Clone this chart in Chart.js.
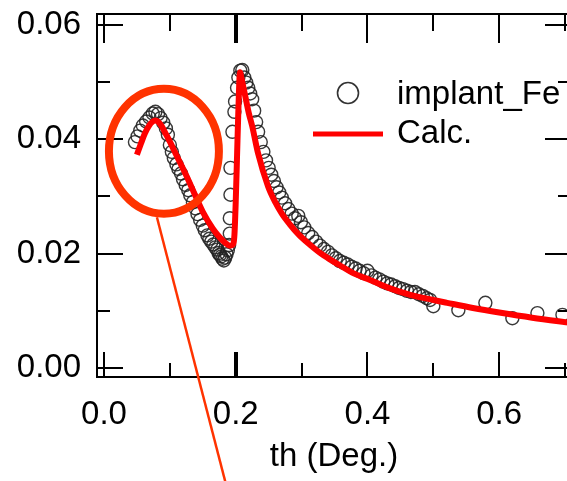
<!DOCTYPE html>
<html>
<head>
<meta charset="utf-8">
<script src="https://cdn.jsdelivr.net/npm/chart.js@4.4.1/dist/chart.umd.min.js"></script>
<style>
  html, body { margin: 0; padding: 0; background: #fff; overflow: hidden; }
  #wrap { width: 567px; height: 481px; overflow: hidden; }
</style>
</head>
<body>
<div id="wrap"><canvas id="chart" width="580" height="481"></canvas></div>
<script>
// measured reflectivity (implant_Fe), th in degrees
const measX = [0.047, 0.051, 0.055, 0.059, 0.064, 0.069, 0.074, 0.078, 0.082, 0.086, 0.090, 0.094, 0.097, 0.100,
  0.103, 0.106, 0.110, 0.113, 0.117, 0.120, 0.124, 0.128, 0.131, 0.135, 0.139, 0.142, 0.146, 0.150, 0.153, 0.157,
  0.160, 0.163, 0.166, 0.169, 0.172, 0.174, 0.176, 0.178, 0.180, 0.182, 0.184, 0.186, 0.188, 0.190, 0.191, 0.191,
  0.192, 0.192, 0.195, 0.198, 0.199, 0.202, 0.204, 0.207, 0.210, 0.213, 0.216, 0.219, 0.222, 0.225, 0.228, 0.231,
  0.234, 0.238, 0.242, 0.246, 0.250, 0.254, 0.258, 0.262, 0.266, 0.270, 0.275, 0.280, 0.285, 0.290, 0.295, 0.299,
  0.304, 0.310, 0.316, 0.322, 0.328, 0.334, 0.340, 0.346, 0.352, 0.358, 0.364, 0.370, 0.376, 0.382, 0.388, 0.394,
  0.400, 0.406, 0.412, 0.418, 0.424, 0.430, 0.436, 0.442, 0.448, 0.454, 0.460, 0.466, 0.472, 0.478, 0.484, 0.490,
  0.495, 0.500, 0.538, 0.579, 0.620, 0.658, 0.696];
const measY = [0.0395, 0.0405, 0.0415, 0.0424, 0.0431, 0.0438, 0.0445, 0.0448, 0.0444, 0.0437, 0.0429, 0.0419, 0.0408, 0.0390,
  0.0378, 0.0367, 0.0356, 0.0348, 0.0340, 0.0330, 0.0320, 0.0311, 0.0302, 0.0290, 0.0279, 0.0269, 0.0259, 0.0249, 0.0241, 0.0232,
  0.0226, 0.0221, 0.0216, 0.0211, 0.0207, 0.0201, 0.0198, 0.0195, 0.0191, 0.0188, 0.0193, 0.0199, 0.0206, 0.0215, 0.0235, 0.0262,
  0.0303, 0.0350, 0.0413, 0.0448, 0.0466, 0.0490, 0.0508, 0.0520, 0.0521, 0.0508, 0.0499, 0.0490, 0.0480, 0.0470, 0.0450, 0.0430,
  0.0413, 0.0395, 0.0378, 0.0363, 0.0350, 0.0338, 0.0327, 0.0316, 0.0307, 0.0298, 0.0288, 0.0278, 0.0270, 0.0262, 0.0266, 0.0255,
  0.0246, 0.0236, 0.0229, 0.0221, 0.0214, 0.0208, 0.0203, 0.0197, 0.0192, 0.0187, 0.0184, 0.0181, 0.0177, 0.0174, 0.0170, 0.0166,
  0.0170, 0.0162, 0.0158, 0.0155, 0.0151, 0.0148, 0.0146, 0.0143, 0.0140, 0.0138, 0.0135, 0.0133, 0.0133, 0.0129, 0.0126, 0.0122,
  0.0119, 0.0108, 0.0101, 0.0114, 0.0087, 0.0096, 0.0093];

// fitted curve (Calc.)
const calcX = [0.050, 0.056, 0.062, 0.068, 0.074, 0.078, 0.082, 0.088, 0.094, 0.100, 0.110, 0.126, 0.140, 0.150, 0.165,
  0.176, 0.185, 0.191, 0.195, 0.198, 0.200, 0.202, 0.204, 0.2065, 0.209, 0.214, 0.220, 0.225, 0.234, 0.249, 0.260,
  0.270, 0.283, 0.295, 0.310, 0.325, 0.343, 0.356, 0.380, 0.404, 0.430, 0.465, 0.500, 0.521, 0.560, 0.600, 0.650, 0.710];
const calcY = [0.0373, 0.0392, 0.0410, 0.0423, 0.0431, 0.0433, 0.0431, 0.0422, 0.0409, 0.0396, 0.0372, 0.0334, 0.0298, 0.0273, 0.0244,
  0.0228, 0.0218, 0.0214, 0.0215, 0.0232, 0.0290, 0.0370, 0.0450, 0.0517, 0.0505, 0.0478, 0.0445, 0.0423, 0.0375, 0.0318, 0.0290,
  0.0270, 0.0250, 0.0234, 0.0218, 0.0204, 0.0190, 0.0181, 0.0165, 0.0154, 0.0141, 0.0128, 0.0119, 0.0114, 0.0105, 0.0097, 0.0088, 0.0079];

const xMajor = [0.0, 0.2, 0.4, 0.6];
const xMinor = [0.1, 0.3, 0.5, 0.7];
const yMajor = [0.00, 0.02, 0.04, 0.06];
const yMinor = [0.01, 0.03, 0.05];

const FONT = 'Liberation Sans, Arial, sans-serif';
const toPoints = (xs, ys) => xs.map((x, i) => ({ x: x, y: ys[i] }));

// box with ticks pointing inwards on all four sides
const frameTicks = {
  id: 'frameTicks',
  afterDraw(chart) {
    const { ctx, chartArea: a, scales: { x, y } } = chart;
    ctx.save();
    ctx.strokeStyle = '#000';
    ctx.lineWidth = 2;
    ctx.beginPath();
    ctx.moveTo(a.left, a.top);
    ctx.lineTo(a.right, a.top);
    ctx.lineTo(a.right, a.bottom);
    ctx.stroke();

    const vTick = (v, lenB, lenT, w) => {
      const px = Math.round(x.getPixelForValue(v));
      ctx.lineWidth = w;
      ctx.beginPath();
      ctx.moveTo(px, a.bottom); ctx.lineTo(px, a.bottom - lenB);
      ctx.moveTo(px, a.top); ctx.lineTo(px, a.top + lenT);
      ctx.stroke();
    };
    const hTick = (v, len) => {
      const py = Math.round(y.getPixelForValue(v));
      ctx.lineWidth = 2;
      ctx.beginPath();
      ctx.moveTo(a.left, py); ctx.lineTo(a.left + len, py);
      ctx.moveTo(a.right, py); ctx.lineTo(a.right - len, py);
      ctx.stroke();
    };
    xMajor.forEach(v => vTick(v, 25, 29, v === 0.2 ? 4 : 2));
    xMinor.forEach(v => vTick(v, 14, 17, 2));
    yMajor.forEach(v => hTick(v, 26));
    yMinor.forEach(v => hTick(v, 13));
    ctx.restore();
  }
};

// legend box and the hand-drawn highlight around the first peak
const extras = {
  id: 'extras',
  afterDraw(chart) {
    const { ctx, scales: { x, y } } = chart;
    ctx.save();
    // legend
    ctx.strokeStyle = '#333';
    ctx.lineWidth = 1.6;
    ctx.beginPath();
    ctx.arc(348, 93, 10.5, 0, Math.PI * 2);
    ctx.stroke();
    ctx.strokeStyle = '#ff0000';
    ctx.lineWidth = 5;
    ctx.beginPath();
    ctx.moveTo(313, 134);
    ctx.lineTo(383, 134);
    ctx.stroke();
    ctx.fillStyle = '#000';
    ctx.font = '33px ' + FONT;
    ctx.textBaseline = 'middle';
    ctx.fillText('implant_Fe', 397, 95);
    ctx.fillText('Calc.', 397, 134);

    // highlight ellipse + pointer
    const cx = x.getPixelForValue(0.091);
    const cy = y.getPixelForValue(0.0379);
    ctx.strokeStyle = '#ff3300';
    ctx.lineWidth = 8;
    ctx.beginPath();
    ctx.ellipse(cx, cy, 55, 62.5, 0, 0, Math.PI * 2);
    ctx.stroke();
    ctx.lineWidth = 2.5;
    ctx.beginPath();
    ctx.moveTo(cx - 7, cy + 66);
    ctx.lineTo(x.getPixelForValue(0.184), y.getPixelForValue(-0.0198));
    ctx.stroke();
    ctx.restore();
  }
};

new Chart(document.getElementById('chart'), {
  type: 'scatter',
  data: {
    datasets: [
      {
        label: 'Calc.',
        data: toPoints(calcX, calcY),
        showLine: true,
        borderColor: '#ff0000',
        borderWidth: 6,
        pointRadius: 0,
        cubicInterpolationMode: 'monotone',
        order: 0
      },
      {
        label: 'implant_Fe',
        data: toPoints(measX, measY),
        pointStyle: 'circle',
        pointRadius: 6.5,
        borderWidth: 1.4,
        borderColor: 'rgba(35,35,35,0.9)',
        backgroundColor: 'rgba(0,0,0,0)',
        order: 1
      }
    ]
  },
  options: {
    responsive: false,
    animation: false,
    events: [],
    layout: { padding: { top: 14, right: 9, left: 0, bottom: 0 } },
    plugins: { legend: { display: false }, tooltip: { enabled: false } },
    scales: {
      x: {
        type: 'linear',
        min: -0.0106,
        max: 0.709,
        grid: { display: false, drawTicks: false },
        border: { display: true, color: '#000', width: 2 },
        afterBuildTicks: s => { s.ticks = xMajor.map(v => ({ value: v })); },
        afterFit: s => { s.height = 104; s.paddingLeft = 0; s.paddingRight = 0; },
        ticks: {
          color: '#000',
          font: { family: FONT, size: 33 },
          padding: 18,
          maxRotation: 0,
          callback: v => v.toFixed(1)
        },
        title: {
          display: true,
          text: 'th (Deg.)',
          color: '#000',
          font: { family: FONT, size: 33 },
          padding: { top: 0, bottom: 4 }
        }
      },
      y: {
        type: 'linear',
        min: -0.00157,
        max: 0.0619,
        grid: { display: false, drawTicks: false },
        border: { display: true, color: '#000', width: 2 },
        afterBuildTicks: s => { s.ticks = yMajor.map(v => ({ value: v })); },
        afterFit: s => { s.width = 97; s.paddingTop = 0; s.paddingBottom = 0; },
        ticks: {
          color: '#000',
          font: { family: FONT, size: 33 },
          padding: 16,
          callback: v => v.toFixed(2)
        }
      }
    }
  },
  plugins: [frameTicks, extras]
});
</script>
</body>
</html>
